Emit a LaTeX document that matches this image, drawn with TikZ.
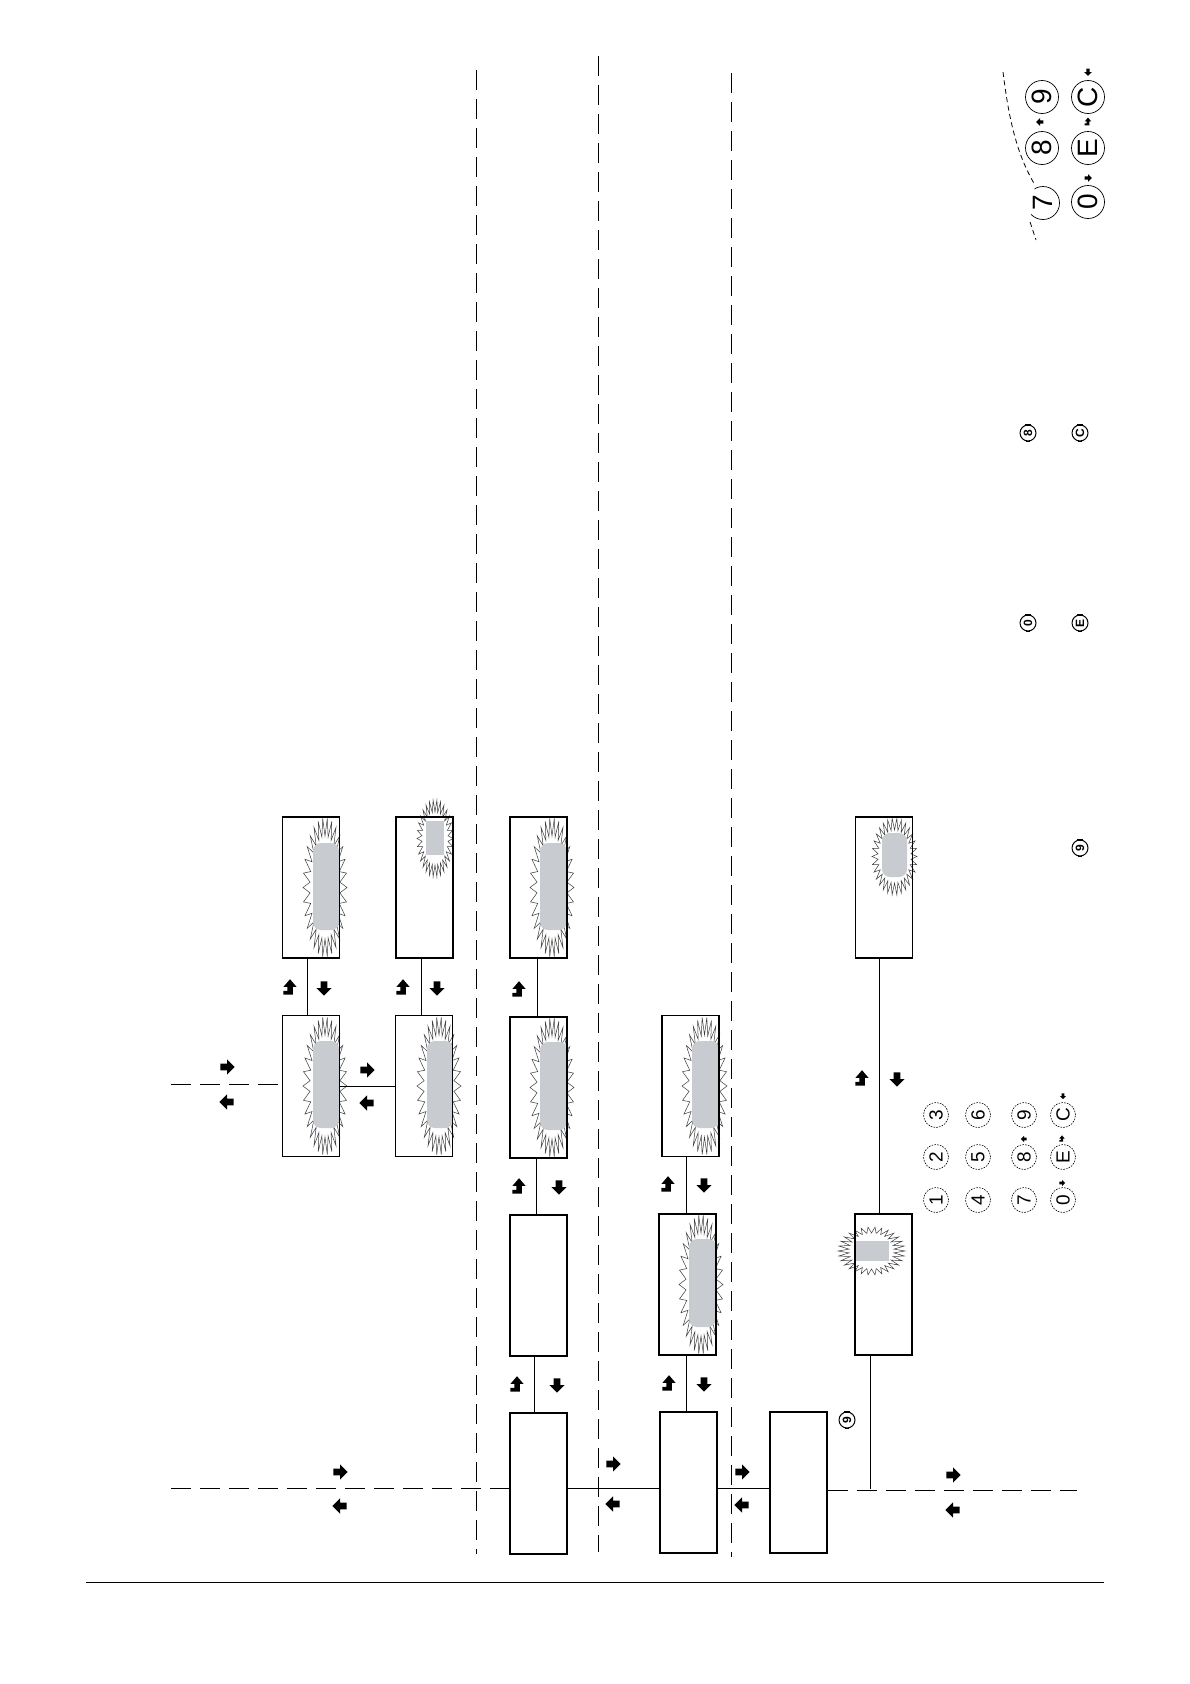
\documentclass[tikz,border=0pt]{standalone}
\usepackage{graphicx}
\usepackage{fontspec}
\setmainfont{Liberation Sans}
\usetikzlibrary{calc}
\definecolor{lcdgrey}{RGB}{200,204,208}
\definecolor{burstc}{RGB}{60,60,60}
\newcommand{\rt}[1]{\rotatebox{90}{#1}}
\newcommand{\myburst}[6]{% cx cy rx ry dx dy
  \filldraw[fill=white,draw=burstc,line width=0.5pt]
    plot[samples=61,domain=0:360,variable=\t]
    ({#1+(#3-#5*mod(round(\t/6),2))*cos(\t)},{#2+(#4-#6*mod(round(\t/6),2))*sin(\t)}) -- cycle;}
\tikzset{
  scr/.style={draw,line width=1.1pt,rectangle,minimum width=57,minimum height=141,inner sep=0},
  conn/.style={line width=1pt},
  dashline/.style={line width=1pt,dash pattern=on 20pt off 9pt},
  lcd/.style={fill=lcdgrey},
  key/.style={circle,draw,dash pattern=on 1.6pt off 1.2pt,line width=0.6pt,minimum size=25,inner sep=0,font=\fontsize{19}{19}\selectfont},
  bigkey/.style={circle,draw,line width=0.7pt,minimum size=33,inner sep=0,font=\fontsize{28}{28}\selectfont},
  bigtxt/.style={circle,minimum size=33,inner sep=0,font=\fontsize{28}{28}\selectfont},
  icon/.style={circle,draw,line width=1pt,minimum size=16,inner sep=0,font=\bfseries\fontsize{12}{12}\selectfont},
  rarr/.pic={\fill (7,0) -- (0,-7) -- (0,-3) -- (-6,-3) -- (-6,3) -- (0,3) -- (0,7) -- cycle;},
  larr/.pic={\fill (-7,0) -- (0,-7) -- (0,-3) -- (6,-3) -- (6,3) -- (0,3) -- (0,7) -- cycle;},
  darr/.pic={\fill (0,7) -- (-7,0) -- (-3,0) -- (-3,-6) -- (3,-6) -- (3,0) -- (7,0) -- cycle;},
  tarr/.pic={\fill (0,-8) -- (6,-1) -- (2.5,-1) -- (2.5,6) -- (-6,6) -- (-6,2.5) -- (-2.5,2.5) -- (-2.5,-1) -- (-6,-1) -- cycle;},
  nav/.style={scale=1.1}
}
\begin{document}
\begin{tikzpicture}[x=1pt,y=-1pt]
\useasboundingbox (0,0) rectangle (1190,1684);
\fill[white] (0,0) rectangle (1190,1684);

% ---- display contents (bursts and grey fields)
\myburst{325}{887.5}{22}{69.5}{7}{18}
\fill[lcd,rounded corners=8] (313,843) rectangle (339,930);
\myburst{325}{1086}{22}{69}{7}{18}
\fill[lcd,rounded corners=8] (313,1041) rectangle (339,1128);
\myburst{435}{838.5}{18}{38.5}{5}{12}
\fill[lcd] (426,821) rectangle (444,855);
\myburst{439}{1086}{22}{69}{7}{18}
\fill[lcd,rounded corners=8] (427,1041) rectangle (453,1128);
\myburst{552}{887.5}{22}{69.5}{7}{18}
\fill[lcd,rounded corners=8] (540,843) rectangle (567,930);
\myburst{552}{1087.5}{22}{69.5}{7}{18}
\fill[lcd,rounded corners=8] (540,1042) rectangle (567,1130);
\myburst{704.5}{1086}{22.5}{69}{7}{18}
\fill[lcd,rounded corners=8] (692,1041) rectangle (719,1128);
\myburst{701}{1284.5}{22}{69.5}{7}{18}
\fill[lcd,rounded corners=8] (689,1239) rectangle (716,1327);
\myburst{894.5}{856.5}{22.5}{38.5}{6}{12}
\fill[lcd,rounded corners=8] (882,833) rectangle (907,877);
\myburst{871.5}{1251}{33.5}{24}{11}{6}
\fill[lcd] (855,1241) rectangle (889,1261);

% ---- screens
\node[scr] (A1) at (311,887.5) {};
\node[scr] (A2) at (311,1086) {};
\node[scr] (B1) at (424.5,887.5) {};
\node[scr] (B2) at (424,1086) {};
\node[scr] (C1) at (538.5,887.5) {};
\node[scr] (C2) at (538.5,1087.5) {};
\node[scr] (C3) at (538.5,1285.5) {};
\node[scr] (C4) at (538.5,1483.5) {};
\node[scr] (D2) at (690.5,1086) {};
\node[scr] (D3) at (687.5,1284.5) {};
\node[scr] (D4) at (688.5,1482.5) {};
\node[scr] (Ebox) at (798.5,1482.5) {};
\node[scr] (F1) at (884,887.5) {};
\node[scr] (F2) at (883.5,1284.5) {};

% ---- dividers and footer
\draw[dashline] (476,70) -- (476,1554);
\draw[dashline] (598,56) -- (598,1552);
\draw[dashline] (731,73) -- (731,1557);
\draw[line width=1pt] (86,1582) -- (1104,1582);

% ---- connectors
\draw[conn] ($(A1.south)+(-4,0)$) -- ($(A2.north)+(-4,0)$);
\draw[conn] ($(B1.south)+(-3.5,0)$) -- ($(B2.north)+(-3,0)$);
\draw[conn] (A2.east) -- (B2.west);
\coordinate (L1) at (171,1084);
\draw[dashline] (L1) -- (A2.west |- L1);
\draw[conn] ($(C1.south)+(-1.5,0)$) -- ($(C2.north)+(-1.5,0)$);
\draw[conn] ($(C2.south)+(-2.5,0)$) -- ($(C3.north)+(-2.5,0)$);
\draw[conn] ($(C3.south)+(-4.5,0)$) -- ($(C4.north)+(-4.5,0)$);
\draw[conn] ($(D2.south)+(-4.5,0)$) -- ($(D3.north)+(-1.5,0)$);
\draw[conn] ($(D3.south)+(-1.5,0)$) -- ($(D4.north)+(-2.5,0)$);
\coordinate (hy) at (0,1488);
\coordinate (L2) at (171,1488);
\draw[dashline] (L2) -- (C4.west |- L2);
\draw[conn] (C4.east |- hy) -- (D4.west |- hy);
\draw[conn] (D4.east |- hy) -- (Ebox.west |- hy);
\coordinate (R2) at (1077,1490);
\draw[dashline] (Ebox.east |- R2) -- (R2);
\draw[conn] ($(F1.south)+(-5,0)$) -- ($(F2.north)+(-4.5,0)$);
\coordinate (F2b) at (870,1489);
\draw[conn] (F2.south -| F2b) -- (F2b);

% ---- navigation arrows
\pic[nav] at (290,988) {tarr}; \pic[nav] at (324,988) {darr};
\pic[nav] at (403,988) {tarr}; \pic[nav] at (437,988) {darr};
\pic[nav] at (367,1070) {rarr}; \pic[nav] at (367,1103) {larr};
\pic[nav] at (227,1067) {rarr}; \pic[nav] at (227,1102) {larr};
\pic[nav] at (519,990) {tarr};
\pic[nav] at (519,1187) {tarr}; \pic[nav] at (559,1187) {darr};
\pic[nav] at (517,1385) {tarr}; \pic[nav] at (557,1385) {darr};
\pic[nav] at (668,1185) {tarr}; \pic[nav] at (704,1185) {darr};
\pic[nav] at (669,1384) {tarr}; \pic[nav] at (704,1384) {darr};
\pic[nav] at (340,1472) {rarr}; \pic[nav] at (340,1506) {larr};
\pic[nav] at (613,1464) {rarr}; \pic[nav] at (613,1504) {larr};
\pic[nav] at (742,1472) {rarr}; \pic[nav] at (742,1505) {larr};
\pic[nav] at (953,1475) {rarr}; \pic[nav] at (953,1510) {larr};
\pic[nav] at (862,1079) {tarr}; \pic[nav] at (897,1079) {darr};

% ---- keypad
\node[key] (k1) at (936,1200) {\rt{1}};
\node[key] (k2) at (936,1157) {\rt{2}};
\node[key] (k3) at (936,1115) {\rt{3}};
\node[key] (k4) at (978,1200) {\rt{4}};
\node[key] (k5) at (978,1157) {\rt{5}};
\node[key] (k6) at (978,1115) {\rt{6}};
\node[key] (k7) at (1024,1200) {\rt{7}};
\node[key] (k8) at (1024,1157) {\rt{8}};
\node[key] (k9) at (1024,1115) {\rt{9}};
\node[key] (k0) at (1063,1200) {\rt{0}};
\node[key] (kE) at (1063,1157) {\rt{E}};
\node[key] (kC) at (1063,1115) {\rt{C}};
\pic[scale=0.45] at (1062,1183) {rarr};
\pic[scale=0.45] at (1024,1139) {larr};
\pic[scale=0.45] at (1062,1139) {tarr};
\pic[scale=0.45] at (1063,1096) {darr};

% ---- enlarged keypad detail
\node[bigkey] (b8) at (1042,148) {\rt{8}};
\node[bigkey] (b9) at (1042,97) {\rt{9}};
\node[bigkey] (b0) at (1088,202) {\rt{0}};
\node[bigkey] (bE) at (1088,148) {\rt{E}};
\node[bigkey] (bC) at (1088,97) {\rt{C}};
\node[bigtxt] (b7) at (1043,203) {\rt{7}};
\begin{scope}
  \clip (1036,170) -- (1035,185) -- (1030,222) -- (1030,232) -- (1075,232) -- (1075,170) -- cycle;
  \draw[line width=0.7pt] (b7.center) circle[radius=16.5];
\end{scope}
\draw[line width=0.8pt,dash pattern=on 5pt off 3.5pt] (1003,72) .. controls (1008,112) and (1015,152) .. (1035,185);
\draw[line width=0.8pt,dash pattern=on 5pt off 3.5pt] (1030,222) -- (1036,240);
\pic[scale=0.55] at (1040,122) {larr};
\pic[scale=0.55] at (1088,178) {rarr};
\pic[scale=0.55] at (1088,122) {tarr};
\pic[scale=0.55] at (1088,72) {darr};

% ---- small key icons
\node[icon] (i8) at (1028,433) {\rt{8}};
\node[icon] (iC) at (1080,433) {\rt{C}};
\node[icon] (i0) at (1028,623) {\rt{0}};
\node[icon] (iE) at (1080,623) {\rt{E}};
\node[icon] (i9) at (1080,848) {\rt{9}};
\node[icon] (i9b) at (847,1420) {\rt{9}};
\foreach \n in {i8,iC,i0,iE,i9,i9b}{
  \draw[line width=2pt] ($(\n.center)+(-3,-8.5)$) -- ($(\n.center)+(3,-8.5)$);
  \draw[line width=1.2pt] ($(\n.center)+(-2,8.5)$) -- ($(\n.center)+(2,8.5)$);
}
\end{tikzpicture}
\end{document}
